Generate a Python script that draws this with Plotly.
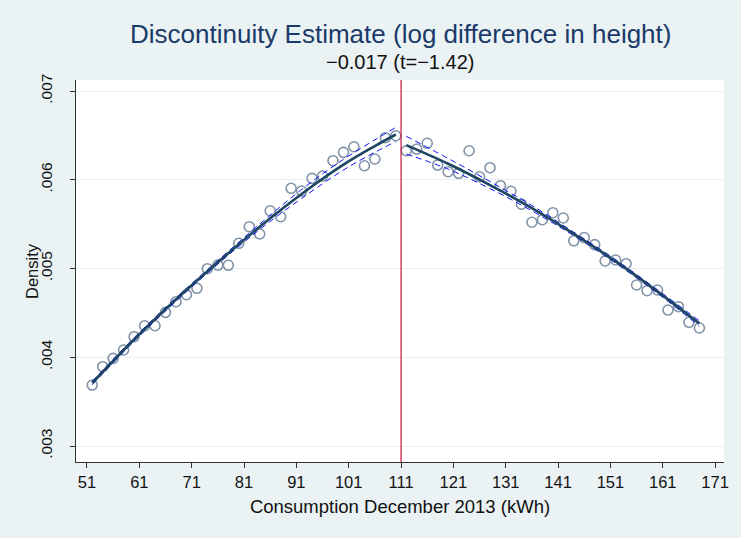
import plotly.graph_objects as go

# ---- data ----
bin_x_left = [52, 54, 56, 58, 60, 62, 64, 66, 68, 70, 72, 74, 76, 78, 80,
              82, 84, 86, 88, 90, 92, 94, 96, 98, 100, 102, 104, 106, 108, 110]
bin_y_left = [0.003687, 0.003894, 0.003988, 0.004082, 0.004232, 0.004355, 0.004355,
              0.004506, 0.004626, 0.004705, 0.004777, 0.004998, 0.005039, 0.005036,
              0.005284, 0.005471, 0.005389, 0.005651, 0.005584, 0.005904, 0.005873,
              0.006016, 0.006042, 0.006215, 0.006309, 0.006372, 0.006158, 0.006234,
              0.006474, 0.006496]
bin_x_right = [112, 114, 116, 118, 120, 122, 124, 126, 128, 130, 132, 134, 136, 138, 140,
               142, 144, 146, 148, 150, 152, 154, 156, 158, 160, 162, 164, 166, 168]
bin_y_right = [0.006327, 0.006346, 0.006411, 0.006166, 0.006091, 0.006073, 0.006327,
               0.006034, 0.006136, 0.005933, 0.005870, 0.005725, 0.005521, 0.005550,
               0.005629, 0.005569, 0.005312, 0.005349, 0.005269, 0.005085, 0.005096,
               0.005054, 0.004814, 0.004750, 0.004758, 0.004532, 0.004570, 0.004394,
               0.004330]

fit_x_left = [52, 60, 68, 76, 84, 92, 100, 106, 110]
fit_left = [0.00371, 0.00420, 0.00465, 0.00507, 0.00547, 0.00584, 0.00617, 0.00638, 0.00651]
upper_left = [0.00373, 0.00422, 0.00467, 0.00509, 0.00550, 0.00589, 0.00623, 0.00645, 0.00659]
lower_left = [0.00369, 0.00418, 0.00463, 0.00505, 0.00544, 0.00579, 0.00611, 0.00631, 0.00643]

fit_x_right = [112, 120, 128, 136, 144, 152, 160, 168]
fit_right = [0.00639, 0.00618, 0.00594, 0.00568, 0.00539, 0.00508, 0.00474, 0.00438]
upper_right = [0.00649, 0.00624, 0.00598, 0.00571, 0.00541, 0.00510, 0.00476, 0.00441]
lower_right = [0.00629, 0.00612, 0.00590, 0.00565, 0.00537, 0.00506, 0.00472, 0.00435]

cutoff = 111
x_ticks = [51, 61, 71, 81, 91, 101, 111, 121, 131, 141, 151, 161, 171]
y_ticks = [0.003, 0.004, 0.005, 0.006, 0.007]
y_tick_text = [".003", ".004", ".005", ".006", ".007"]

title_text = "Discontinuity Estimate (log difference in height)"
subtitle_text = "\u22120.017 (t=\u22121.42)"
x_title = "Consumption December 2013 (kWh)"
y_title = "Density"

FONT = "Liberation Sans, Arial, sans-serif"
MARKER_C = "rgb(128,147,168)"
FIT_C = "#1d4560"
BAND_C = "#1010ff"

fig = go.Figure()

for bx, by in [(bin_x_left, bin_y_left), (bin_x_right, bin_y_right)]:
    fig.add_trace(go.Scatter(x=bx, y=by, mode="markers",
                             marker=dict(symbol="circle-open", size=10,
                                         color=MARKER_C, line=dict(width=1.6, color=MARKER_C)),
                             showlegend=False, hoverinfo="skip"))

for fx, up, lo in [(fit_x_left, upper_left, lower_left), (fit_x_right, upper_right, lower_right)]:
    for band in (up, lo):
        fig.add_trace(go.Scatter(x=fx, y=band, mode="lines", line_shape="spline",
                                 line=dict(color=BAND_C, width=1, dash="6px,4px"),
                                 showlegend=False, hoverinfo="skip"))

for fx, fy in [(fit_x_left, fit_left), (fit_x_right, fit_right)]:
    fig.add_trace(go.Scatter(x=fx, y=fy, mode="lines", line_shape="spline",
                             line=dict(color=FIT_C, width=2.6),
                             showlegend=False, hoverinfo="skip"))

fig.add_shape(type="line", xref="x", yref="paper", x0=cutoff, x1=cutoff, y0=0, y1=1,
              line=dict(color="#c8143c", width=1.2), layer="above")

fig.add_annotation(text=title_text, xref="paper", yref="paper", x=0.5, y=1,
                   xanchor="center", yanchor="bottom", yshift=29, showarrow=False,
                   font=dict(family=FONT, size=26, color="#1a3a6a"))
fig.add_annotation(text=subtitle_text, xref="paper", yref="paper", x=0.5, y=1,
                   xanchor="center", yanchor="bottom", yshift=5, showarrow=False,
                   font=dict(family=FONT, size=20, color="#111111"))
fig.add_annotation(text=y_title, xref="paper", yref="paper", x=0, y=0.5,
                   xanchor="center", yanchor="middle", xshift=-44, textangle=-90,
                   showarrow=False, font=dict(family=FONT, size=16.5, color="#111111"))

fig.update_layout(
    width=741, height=538,
    margin=dict(l=76, r=17, t=80, b=76),
    paper_bgcolor="#eaf2f3",
    plot_bgcolor="white",
    font=dict(family=FONT, size=16, color="#111111"),
    xaxis=dict(range=[48.9, 172.7], tickmode="array", tickvals=x_ticks,
               ticks="outside", ticklen=5, tickcolor="#333333", showgrid=False,
               showline=True, linecolor="#333333", linewidth=1, zeroline=False,
               tickfont=dict(size=16.5), title=dict(text=x_title, font=dict(size=18.5), standoff=10)),
    yaxis=dict(range=[0.00282, 0.007124], tickmode="array", tickvals=y_ticks,
               ticktext=y_tick_text, tickangle=-90, ticklabelstandoff=12,
               ticks="outside", ticklen=5, tickcolor="#333333", showgrid=True,
               gridcolor="#e6eef0", gridwidth=1,
               showline=True, linecolor="#333333", linewidth=1, zeroline=False,
               tickfont=dict(size=15.5)),
)

fig.write_html("out.html")
